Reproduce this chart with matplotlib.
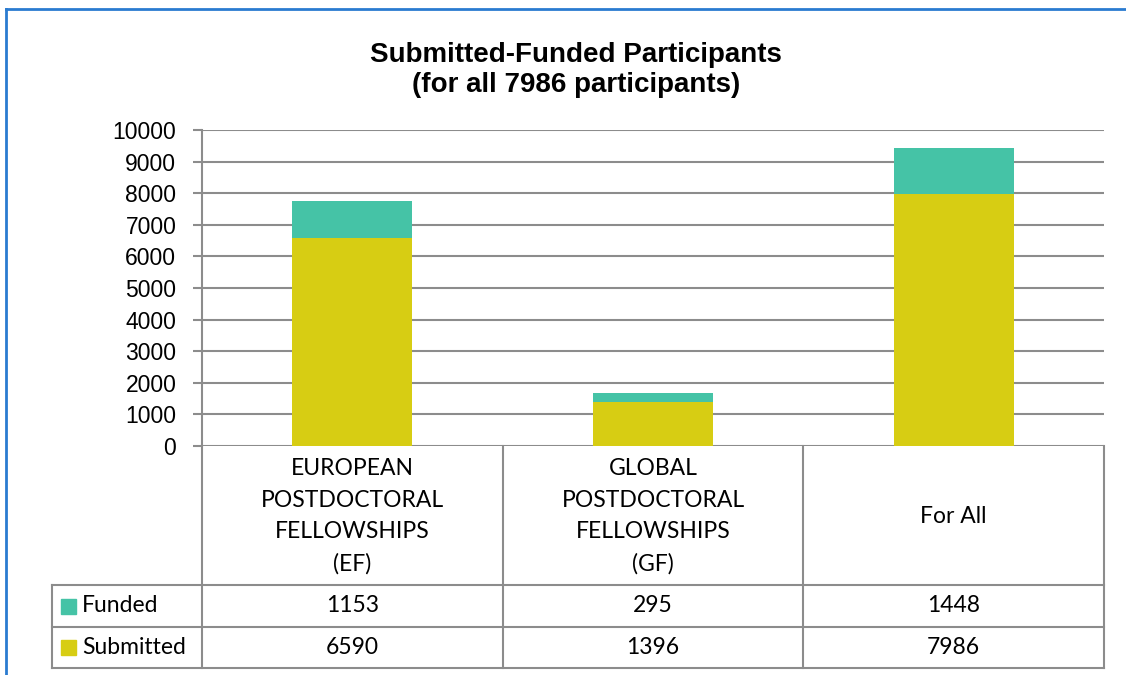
import matplotlib.pyplot as plt
from matplotlib.patches import Rectangle

categories = ["EUROPEAN\nPOSTDOCTORAL\nFELLOWSHIPS\n(EF)",
              "GLOBAL\nPOSTDOCTORAL\nFELLOWSHIPS\n(GF)",
              "For All"]
submitted = [6590, 1396, 7986]
funded = [1153, 295, 1448]
series = ["Funded", "Submitted"]
yticks = list(range(0, 10001, 1000))

c_funded = "#45C3A6"
c_submitted = "#D7CD13"
grey = "#8C8C8C"

W, H = 1126, 675
fig = plt.figure(figsize=(W / 100, H / 100), dpi=100)

# plot area in pixels (from top-left)
px_l, px_r, px_t, px_b = 202, 1104, 130, 446
ax = fig.add_axes([px_l / W, 1 - px_b / H, (px_r - px_l) / W, (px_b - px_t) / H])

x = list(range(len(categories)))
ax.bar(x, submitted, width=0.4, color=c_submitted, zorder=3)
ax.bar(x, funded, width=0.4, bottom=submitted, color=c_funded, zorder=3)
ax.set_xlim(-0.5, len(categories) - 0.5)
ax.set_ylim(0, 10000)
ax.set_yticks(yticks)
ax.set_yticklabels([str(t) for t in yticks], fontfamily="Liberation Sans", fontsize=16.5)
ax.set_xticks([])
ax.yaxis.grid(True, color=grey, linewidth=1.5, zorder=0)
ax.tick_params(axis="y", length=6.5, width=1.5, color=grey, pad=12)
for side in ["top", "right", "bottom"]:
    ax.spines[side].set_visible(False)
ax.spines["left"].set_color(grey)
ax.spines["left"].set_linewidth(1.5)
ax.set_facecolor("none")

# overlay in pixel coordinates for the data table and frame
ov = fig.add_axes([0, 0, 1, 1], zorder=-1)
ov.set_xlim(0, W)
ov.set_ylim(H, 0)
ov.axis("off")

fig.text(576 / W, 1 - 70 / H, "Submitted-Funded Participants\n(for all 7986 participants)",
         ha="center", va="center", fontsize=20, fontweight="bold",
         fontfamily="Liberation Sans", linespacing=1.2)

row_top, row_mid, row_bot = 585, 627, 668
legend_l = 52
col_w = (px_r - px_l) / len(categories)
lw = 1.5
for i in range(len(categories) + 1):
    xc = px_l + i * col_w
    ov.plot([xc, xc], [px_b, row_bot], color=grey, lw=lw)
ov.plot([legend_l, legend_l], [row_top, row_bot], color=grey, lw=lw)
for yy in [row_top, row_mid, row_bot]:
    ov.plot([legend_l, px_r], [yy, yy], color=grey, lw=lw)

tfont = dict(fontfamily="Lato", fontsize=16.5, ha="center", va="center")
for i, cat in enumerate(categories):
    cx = px_l + (i + 0.5) * col_w
    ov.text(cx, (px_b + row_top) / 2 + 1, cat, linespacing=1.62, **tfont)
    ov.text(cx, (row_top + row_mid) / 2, str(funded[i]), **tfont)
    ov.text(cx, (row_mid + row_bot) / 2, str(submitted[i]), **tfont)

for name, col, (y0, y1) in zip(series, [c_funded, c_submitted],
                               [(row_top, row_mid), (row_mid, row_bot)]):
    yc = (y0 + y1) / 2
    ov.add_patch(Rectangle((61, yc - 7.5), 15, 15, color=col))
    ov.text(82, yc, name, fontfamily="Lato", fontsize=16.5, ha="left", va="center")

# outer blue frame
ov.plot([6, W], [9, 9], color="#2A7BD0", lw=2)
ov.plot([6, 6], [9, H], color="#2A7BD0", lw=2)

fig.savefig("out.png", dpi=100)
